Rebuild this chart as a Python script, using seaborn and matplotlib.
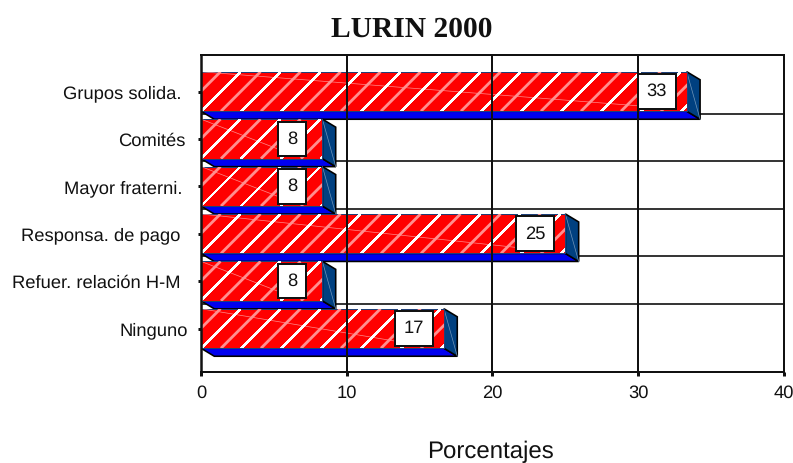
import matplotlib
matplotlib.use("Agg")
import matplotlib.pyplot as plt
import seaborn as sns
from matplotlib.patches import Polygon

categories = ["Grupos solida.", "Comités", "Mayor fraterni.", "Responsa. de pago", "Refuer. relación H-M", "Ninguno"]
values = [33.33, 8.33, 8.33, 25.0, 8.33, 16.67]
x_ticks = [0, 10, 20, 30, 40]
label_end_px = [181, 185, 182, 180, 181, 188]

W, H, DPI = 793, 463, 120
PT = 72 / DPI
sns.set_theme(style="white")
plt.rcParams["font.family"] = ["Liberation Sans", "DejaVu Sans"]
plt.rcParams["text.hinting"] = "none"
plt.rcParams["text.hinting_factor"] = 8

fig = plt.figure(figsize=(W / DPI, H / DPI), dpi=DPI, facecolor="white")
L, R, T, B = 201, 784, 55, 372
ax = fig.add_axes([L / W, 1 - B / H, (R - L) / W, (B - T) / H])

row = 47.4
bar_h = 39.5 / row
sns.barplot(x=values, y=categories, orient="h", color="#FF0000", saturation=1,
            width=bar_h, ax=ax, zorder=2, edgecolor="#1F3F77", linewidth=1 * PT)
ax.set_xlim(0, 40)
ax.set_ylim((B - 91.5) / row, (T - 91.5) / row)
px_x = (R - L) / 40
DX, DY = 13.3 / px_x, 8 / row

ax.hlines([i + 0.475 for i in range(5)], 0, 40, color="#222222", lw=1.8 * PT, zorder=1)
ax.vlines(x_ticks, (T - 91.5) / row, (B - 91.5) / row, color="#111111", lw=2 * PT, zorder=3)

for i, v in enumerate(values):
    top, bot = i - bar_h / 2, i + bar_h / 2
    ax.add_patch(Polygon([(0, bot), (v, bot), (v + DX, bot + DY), (DX, bot + DY)], closed=True,
                         fc="#0000F0", ec="black", lw=1.6 * PT, zorder=1.8))
    ax.add_patch(Polygon([(v, top), (v + DX, top + DY), (v + DX, bot + DY), (v, bot)], closed=True,
                         fc="#004080", ec="black", lw=1.6 * PT, zorder=1.8))
    ax.plot([v, v + DX], [top, bot + DY], color="#6F94B8", lw=0.7 * PT, zorder=1.9)
    bar = ax.patches[i]
    h_px = 39.5
    k = 0
    while k * 20 < v * px_x + h_px:
        xt = (k * 20 - 0.5) / px_x
        xb = (k * 20 - 0.5 - h_px) / px_x
        white = k % 2 == 0
        ln, = ax.plot([xt, xb], [top, bot], color="white" if white else "#FF8F8F",
                      lw=(1.3 if white else 2.8) * PT, zorder=2.1 if white else 2.08,
                      solid_capstyle="butt", antialiased=not white)
        ln.set_clip_path(bar)
        k += 1
    ln, = ax.plot([0, v - 30 / px_x], [top, bot - 4 / row], color="#FF8A8A", lw=0.7 * PT, zorder=2.05)
    ln.set_clip_path(bar)
    ax.annotate(f"{v:.0f}", (v, i), xytext=(-30, 0.0), textcoords="offset pixels",
                ha="center", va="center", fontsize=18.4 * PT, color="#111111", zorder=5,
                bbox=dict(boxstyle="square,pad=0.48", fc="white", ec="#111111", lw=2 * PT))

ax.set_xticks(x_ticks)
ax.set_xticklabels([str(t) for t in x_ticks], fontsize=18.4 * PT, color="#111111")
ax.tick_params(axis="both", length=3.5 * PT, width=3 * PT, color="#111111", bottom=True, left=True)
ax.tick_params(axis="x", pad=9 * PT)
ax.set_ylabel("")
ax.set_xlabel("Porcentajes", fontsize=24 * PT, color="#111111", x=(490 - L) / (R - L), labelpad=39 * PT)
ax.tick_params(axis="y", labelsize=18.4 * PT, labelcolor="#111111")
for tick, end in zip(ax.yaxis.get_major_ticks(), label_end_px):
    tick.set_pad((L - 3.5 - end) * PT)

ax.set_title("LURIN 2000", fontsize=29.5 * PT, fontweight="bold", family="Liberation Serif",
             x=(411.5 - L) / (R - L), pad=18 * PT, color="#111111")

for s in ax.spines.values():
    s.set_visible(True)
    s.set_color("#111111")
    s.set_linewidth(2 * PT)
    s.set_zorder(4)
ax.spines["left"].set_linewidth(2.5 * PT)

fig.savefig("out.png", dpi=DPI, facecolor="white")
